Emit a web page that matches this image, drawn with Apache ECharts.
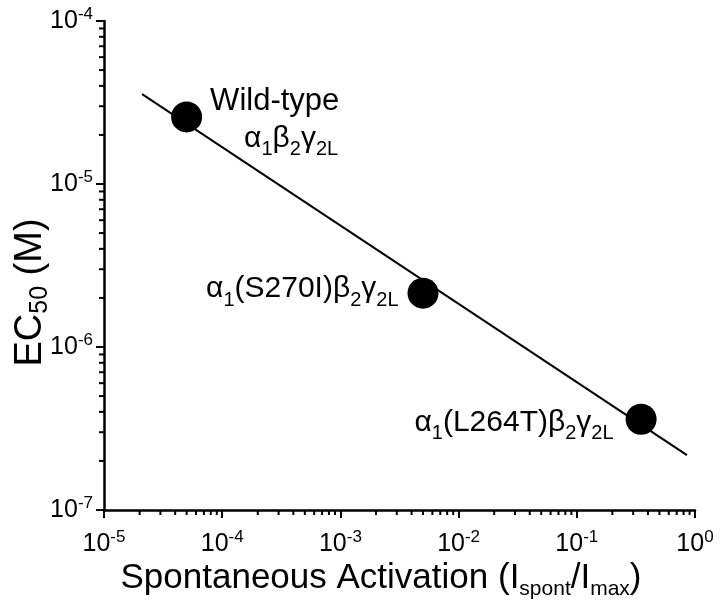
<!DOCTYPE html>
<html><head><meta charset="utf-8">
<script src="https://cdn.jsdelivr.net/npm/echarts@6/dist/echarts.min.js"></script>
<style>html,body{margin:0;padding:0;background:#fff}#c{width:720px;height:610px}</style>
</head><body><div id="c"></div>
<script>
// ---- data ----
const pointNames = ['Wild-type', 'S270I', 'L264T'];
const spontActivation = [5.0e-5, 5.0e-3, 0.35];
const ec50 = [2.58e-5, 2.14e-6, 3.6e-7];
const fitX = [2.1e-5, 0.855];
const fitY = [3.56e-5, 2.17e-7];
const xDecades = [1e-5, 1e-4, 1e-3, 1e-2, 1e-1, 1];
const yDecades = [1e-7, 1e-6, 1e-5, 1e-4];
const minorMultipliers = [2, 3, 4, 5, 6, 7, 8, 9];
const pointLabels = [
  '{w|Wild-type}\n{g0|α}{s|1}{g|β}{s|2}{g|γ}{s|2L}',
  '{g|α}{s|1}{g|(S270I)β}{s|2}{g|γ}{s|2L}',
  '{g|α}{s|1}{g|(L264T)β}{s|2}{g|γ}{s|2L}'
];

// ---- layout / style ----
const FF = '"Liberation Sans", Arial, Helvetica, sans-serif';
const labelLayouts = [
  {position: 'right', distance: 8, offset: [0, 6]},
  {position: 'left', distance: 9, offset: [0, -4]},
  {position: 'left', distance: 12, offset: [0, 3]}
];
const labelRich = {
  w: {fontSize: 31, lineHeight: 32, fontFamily: FF, color: '#000'},
  g0: {fontSize: 30, lineHeight: 42, fontFamily: FF, color: '#000', padding: [0, 0, 0, 34]},
  g: {fontSize: 30, lineHeight: 42, fontFamily: FF, color: '#000'},
  s: {fontSize: 20, lineHeight: 20, fontFamily: FF, color: '#000', verticalAlign: 'bottom'}
};
const tickRich = {
  tb: {fontSize: 25, lineHeight: 30, fontFamily: FF, color: '#000'},
  ts: {fontSize: 17, lineHeight: 17, fontFamily: FF, color: '#000', verticalAlign: 'top'}
};
function powLabel(v) {
  const e = Math.round(Math.log10(v));
  return '{tb|10}{ts|' + (e < 0 ? '-' + (-e) : e) + '}';
}
function minorVals(decades) {
  const out = [];
  for (let i = 0; i < decades.length - 1; i++) {
    minorMultipliers.forEach(m => out.push(decades[i] * m));
  }
  return out;
}
const xMinor = minorVals(xDecades);
const yMinor = minorVals(yDecades);
const xMin = xDecades[0], xMax = xDecades[xDecades.length - 1];
const yMin = yDecades[0], yMax = yDecades[yDecades.length - 1];

const axisLine = {show: true, lineStyle: {color: '#000', width: 2.5}};
const axisTick = {show: true, inside: false, length: 8, lineStyle: {color: '#000', width: 2}};

const xNameRich = {
  n: {fontSize: 35, lineHeight: 44, fontFamily: FF, color: '#000'},
  u: {fontSize: 21, lineHeight: 21, fontFamily: FF, color: '#000', verticalAlign: 'bottom'}
};
const yNameRich = {
  n: {fontSize: 38, lineHeight: 44, fontFamily: FF, color: '#000'},
  u: {fontSize: 25, lineHeight: 25, fontFamily: FF, color: '#000', verticalAlign: 'bottom'}
};

const chart = echarts.init(document.getElementById('c'), null, {renderer: 'canvas'});
chart.setOption({
  backgroundColor: '#fff',
  animation: false,
  grid: {left: 104, right: 25, top: 21, bottom: 100, containLabel: false, outerBoundsMode: 'none'},
  xAxis: {
    type: 'log', logBase: 10, min: xMin, max: xMax,
    axisLine: axisLine, axisTick: axisTick, splitLine: {show: false},
    axisLabel: {formatter: powLabel, rich: tickRich, margin: 19, fontSize: 25, fontFamily: FF, color: '#000'},
    name: '{n|Spontaneous Activation (I}{u|spont}{n|/I}{u|max}{n|)}',
    nameLocation: 'middle', nameGap: 46, nameMoveOverlap: false,
    nameTextStyle: {rich: xNameRich, padding: [0, 37, 0, 0]}
  },
  yAxis: {
    type: 'log', logBase: 10, min: yMin, max: yMax,
    axisLine: axisLine, axisTick: axisTick, splitLine: {show: false},
    axisLabel: {formatter: powLabel, rich: tickRich, margin: 11, fontSize: 25, fontFamily: FF, color: '#000'},
    name: '{n|EC}{u|50}{n| (M)}',
    nameLocation: 'middle', nameGap: 51, nameMoveOverlap: false,
    nameTextStyle: {rich: yNameRich, padding: [0, 54, 0, 0]}
  },
  series: [
    {
      type: 'line', data: fitX.map((x, i) => [x, fitY[i]]),
      symbol: 'none', lineStyle: {color: '#000', width: 2}, z: 2, silent: true
    },
    {
      type: 'scatter', symbol: 'circle', symbolSize: 31, z: 3,
      itemStyle: {color: '#000', opacity: 1},
      data: spontActivation.map((x, i) => ({
        name: pointNames[i], value: [x, ec50[i]],
        label: Object.assign({show: true, formatter: pointLabels[i], rich: labelRich}, labelLayouts[i])
      }))
    },
    {
      type: 'custom', clip: false, silent: true, z: 4,
      data: xMinor.map(v => [v, yMin]),
      renderItem: function (params, api) {
        const p = api.coord([api.value(0), api.value(1)]);
        return {type: 'line', shape: {x1: p[0], y1: p[1], x2: p[0], y2: p[1] + 5},
          style: {stroke: '#000', lineWidth: 2}};
      }
    },
    {
      type: 'custom', clip: false, silent: true, z: 4,
      data: yMinor.map(v => [xMin, v]),
      renderItem: function (params, api) {
        const p = api.coord([api.value(0), api.value(1)]);
        return {type: 'line', shape: {x1: p[0] - 5, y1: p[1], x2: p[0], y2: p[1]},
          style: {stroke: '#000', lineWidth: 2}};
      }
    }
  ]
});
</script>
</body></html>
